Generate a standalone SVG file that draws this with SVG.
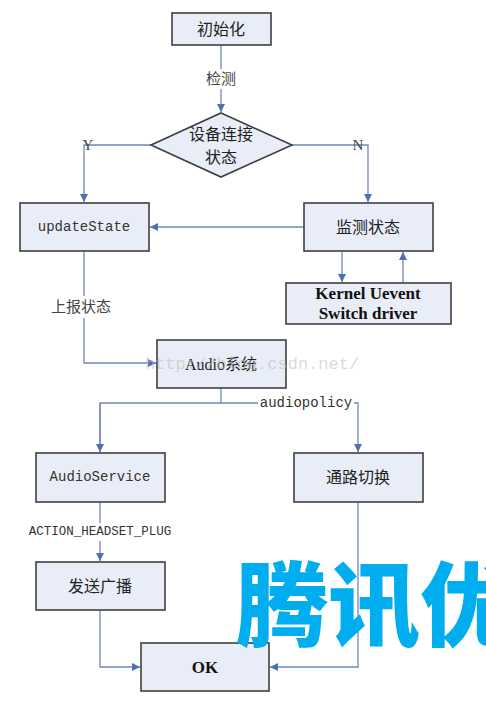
<svg xmlns="http://www.w3.org/2000/svg" width="486" height="705" viewBox="0 0 486 705">
<style>
.box{fill:#e9edf7;stroke:#3f3f3f;stroke-width:1.6}
.cn{font-family:"Liberation Serif","Noto Sans CJK SC",serif;font-size:16px;fill:#222;text-anchor:middle;dominant-baseline:central}
.mono{font-family:"Liberation Mono","Noto Sans CJK SC",monospace;font-size:14px;fill:#333;text-anchor:middle;dominant-baseline:central}
.bold{font-family:"Liberation Serif",serif;font-weight:bold;font-size:17px;fill:#111;text-anchor:middle;dominant-baseline:central}
.lbl{font-family:"Liberation Serif","Noto Sans CJK SC",serif;font-size:15px;fill:#444;text-anchor:middle;dominant-baseline:central}
.ln{fill:none;stroke:#6f89bb;stroke-width:1.3}
.lbg{fill:#ffffff}
</style>
<defs>
<marker id="ah" markerWidth="8" markerHeight="8" refX="8" refY="4" orient="auto" markerUnits="userSpaceOnUse">
<path d="M0,0 L8,4 L0,8 Z" fill="#4f6fae"/>
</marker>
</defs>
<rect width="486" height="705" fill="#ffffff"/>
<g id="connectors">
<path class="ln" d="M221,45 V112" marker-end="url(#ah)"/>
<rect class="lbg" x="203" y="69" width="36" height="20"/>
<path class="ln" d="M151,145 H84 V202" marker-end="url(#ah)"/>
<path class="ln" d="M292,145 H368 V202" marker-end="url(#ah)"/>
<path class="ln" d="M304,227 H150" marker-end="url(#ah)"/>
<path class="ln" d="M342,251 V282" marker-end="url(#ah)"/>
<path class="ln" d="M403,283 V252" marker-end="url(#ah)"/>
<path class="ln" d="M84,251 V363 H156" marker-end="url(#ah)"/>
<rect class="lbg" x="46" y="296" width="70" height="22"/>
<path class="ln" d="M221,388 V403"/>
<path class="ln" d="M100,452 V403 H358 V452" marker-end="url(#ah)"/>
<path class="ln" d="M100,403 V452" marker-end="url(#ah)"/>
<rect class="lbg" x="258" y="394" width="96" height="18"/>
<path class="ln" d="M100,502 V561" marker-end="url(#ah)"/>
<rect class="lbg" x="28" y="523" width="144" height="18"/>
<path class="ln" d="M100,610 V667 H140" marker-end="url(#ah)"/>
<path class="ln" d="M358,502 V667 H270" marker-end="url(#ah)"/>
<text class="lbl" x="221" y="79">检测</text>
<text class="lbl" x="88" y="145">Y</text>
<text class="lbl" x="358" y="145">N</text>
<text class="lbl" x="81" y="307">上报状态</text>
<text class="mono" x="306" y="403">audiopolicy</text>
<text class="mono" x="100" y="532" style="font-size:12.5px">ACTION_HEADSET_PLUG</text>
</g>
<g id="init">
<rect class="box" x="172" y="13" width="99" height="32"/>
<text class="cn" x="221" y="29">初始化</text>
</g>
<g id="decision">
<polygon class="box" points="221,113 292,145 221,177 151,145"/>
<text class="cn" x="221" y="134">设备连接</text>
<text class="cn" x="221" y="157">状态</text>
</g>
<g id="updateState">
<rect class="box" x="20" y="203" width="129" height="48"/>
<text class="mono" x="84" y="227">updateState</text>
</g>
<g id="monitor">
<rect class="box" x="304" y="203" width="129" height="48"/>
<text class="cn" x="368" y="227">监测状态</text>
</g>
<g id="kernel">
<rect class="box" x="286" y="283" width="165" height="41"/>
<text class="bold" x="368" y="293">Kernel Uevent</text>
<text class="bold" x="368" y="313">Switch driver</text>
</g>
<g id="audio">
<rect class="box" x="157" y="340" width="129" height="48"/>
<text class="cn" x="221" y="364">Audio系统</text>
</g>
<g id="audioService">
<rect class="box" x="36" y="453" width="129" height="49"/>
<text class="mono" x="100" y="477">AudioService</text>
</g>
<g id="route">
<rect class="box" x="294" y="453" width="129" height="49"/>
<text class="cn" x="358" y="477">通路切换</text>
</g>
<g id="broadcast">
<rect class="box" x="36" y="562" width="129" height="48"/>
<text class="cn" x="100" y="586">发送广播</text>
</g>
<g id="ok">
<rect class="box" x="141" y="643" width="128" height="48"/>
<text class="bold" x="205" y="667">OK</text>
</g>
<text x="252" y="364" style="font-family:'Liberation Mono',monospace;font-size:17px;fill:#bbbbbb;fill-opacity:0.55;text-anchor:middle;dominant-baseline:central">http://blog.csdn.net/</text>
<text x="236" y="639" style="font-family:'Noto Sans CJK SC',sans-serif;font-weight:900;font-size:92px;fill:#00aeef">腾讯优</text>
</svg>
